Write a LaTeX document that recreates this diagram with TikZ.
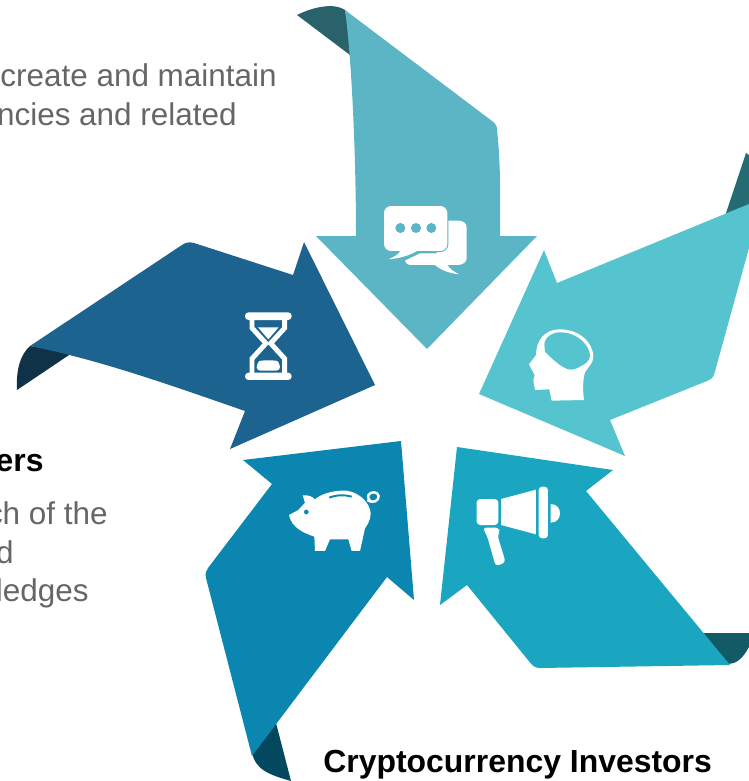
\documentclass[tikz,border=0pt]{standalone}
\usepackage{fontspec}
\setmainfont{Liberation Sans}
\definecolor{armtop}{HTML}{5BB5C5}
\definecolor{foldtop}{HTML}{2A626B}
\definecolor{armright}{HTML}{55C4CE}
\definecolor{foldright}{HTML}{246B74}
\definecolor{armlow}{HTML}{1AA6C0}
\definecolor{foldlow}{HTML}{115A66}
\definecolor{armpig}{HTML}{0A86B0}
\definecolor{foldpig}{HTML}{03485E}
\definecolor{armleft}{HTML}{1D6390}
\definecolor{foldleft}{HTML}{0F3249}
\definecolor{bodytext}{HTML}{666666}
\tikzset{
    icon/.style={fill=white,draw=none},
    bodyline/.style={anchor=base east,inner sep=0pt,text=bodytext,font=\fontsize{17.9}{21}\selectfont},
    headline/.style={inner sep=0pt,text=black,font=\bfseries\fontsize{18.17}{21}\selectfont}
}
\begin{document}
\begin{tikzpicture}[x=0.02cm,y=-0.02cm]
  \useasboundingbox (0,0) rectangle (749,781);
  \clip (0,0) rectangle (749,781);

% top arm
  \fill [foldtop] (297,15) .. controls (315,6) and (335,3) .. (345,10) .. controls (348,25) and (350,40) .. (350,55) -- cycle;
  \fill [armtop] (345,10) -- (492,121) .. controls (496,124) and (497,126) .. (497,130) .. controls (501,165) and (500,200) .. (500,236)
     -- (537,236) -- (427,349) -- (316,236) -- (356,236) .. controls (356,160) and (352,60) .. (345,10) -- cycle;
  \begin{scope}[shift={(370,190)},scale=0.3333]
    \fill [icon] (105,212) .. controls (108,220) and (112,225) .. (120,225) -- (195,225) .. controls (215,242) and (240,250) .. (268,253) .. controls (250,245) and (238,235) .. (232,225) -- (262,225)
       .. controls (280,225) and (290,215) .. (290,205) -- (290,112) .. controls (290,100) and (280,92) .. (265,92) -- (200,92) -- (200,190) -- (150,190) -- cycle;
    \draw [armtop,line width=1.2pt,rounded corners=4pt] (42,48) rectangle (232,183);
    \draw [armtop,line width=1.2pt] (145,183) .. controls (125,195) and (90,205) .. (55,208) .. controls (75,200) and (88,192) .. (92,183);
    \fill [icon,rounded corners=4pt] (42,48) rectangle (232,183);
    \fill [icon] (145,180) .. controls (125,195) and (90,205) .. (55,208) .. controls (75,200) and (88,192) .. (92,180) -- cycle;
    \fill [armtop] (91,114) circle (15) (138,114) circle (15) (184,114) circle (15);
  \end{scope}

% right arm
  \fill [foldright] (725,216) -- (746,153) -- (749,155) -- (749,205) -- cycle;
  \fill [armright] (749,204) -- (557,283) -- (544,250) -- (479,394) -- (625,456) -- (610,420) -- (707,381)
     .. controls (711,379) and (713,378) .. (714,375) -- (749,248) -- cycle;
  \begin{scope}[shift={(510,320)},scale=0.3333]
    \fill [icon] (125,242) -- (118,208) -- (75,210) -- (70,182) -- (74,165) -- (66,150) -- (57,133) -- (78,105)
       .. controls (78,60) and (105,28) .. (150,28) .. controls (210,28) and (250,70) .. (250,110)
       .. controls (250,130) and (235,140) .. (226,155) .. controls (218,175) and (218,210) .. (222,240) -- cycle;
    \fill [armright] (103,72) .. controls (105,50) and (130,35) .. (155,37) .. controls (200,38) and (240,75) .. (240,108)
       .. controls (238,125) and (225,132) .. (210,140) .. controls (195,148) and (185,152) .. (170,146)
       .. controls (150,138) and (130,120) .. (105,95) -- cycle;
  \end{scope}

% lower right arm
  \fill [foldlow] (697,633) -- (749,633) -- (749,647) .. controls (742,660) and (735,664) .. (728,664) -- cycle;
  \fill [armlow] (457,447) -- (613,470) -- (586,491) -- (730,665) -- (540,668) .. controls (534,668) and (532,665) .. (528,660)
     -- (467,585) -- (440,605) -- cycle;
  \begin{scope}[shift={(460,475)},scale=0.3333]
    \fill [icon,rounded corners=2pt] (50,72) rectangle (115,150);
    \fill [icon] (123,72) -- (228,44) -- (228,178) -- (123,150) -- cycle;
    \fill [icon,rounded corners=2pt] (236,35) rectangle (264,190);
    \fill [icon] (272,87) .. controls (292,87) and (300,102) .. (300,115) .. controls (300,128) and (292,143) .. (272,143) -- cycle;
    \fill [icon,rounded corners=2pt] (68,158) -- (118,158) -- (118,172) -- (112,180) -- (137,262) -- (107,274) -- (82,185) -- cycle;
  \end{scope}

% lower left arm
  \fill [foldpig] (275,719) -- (291,781) .. controls (270,775) and (255,770) .. (252,752) -- cycle;
  \fill [armpig] (243,460) -- (401,441) -- (414,600) -- (387,577) -- (252,756) -- (206,578) .. controls (205,573) and (206,571) .. (208,568)
     -- (272,484) -- cycle;
  \begin{scope}[shift={(280,480)},scale=0.3333]
    \fill [icon] (27,105) -- (55,90) -- (75,68) -- (68,46) .. controls (85,44) and (97,50) .. (105,58)
       .. controls (125,40) and (165,30) .. (200,32) .. controls (240,38) and (270,70) .. (272,100)
       .. controls (272,120) and (262,135) .. (255,145) -- (240,213) -- (215,213) -- (205,178) -- (150,178) -- (135,213) -- (105,213) -- (103,170)
       .. controls (75,160) and (35,145) .. (27,105) -- cycle;
    \fill [armpig] (79,96) circle (7);
    \draw [armpig,line width=1.1pt] (148,53) .. controls (170,44) and (195,44) .. (215,50);
    \draw [white,line width=1.4pt] (262,60) .. controls (280,72) and (297,62) .. (296,48) .. controls (294,35) and (272,32) .. (265,46) .. controls (262,55) and (270,65) .. (278,66);
  \end{scope}

% left arm
  \fill [foldleft] (17,390) -- (72,353) -- (30,346) .. controls (20,355) and (16,370) .. (17,390) -- cycle;
  \fill [armleft] (304,242) -- (375,385) -- (230,449) -- (245,411) .. controls (170,385) and (100,360) .. (30,346) -- (182,245)
     .. controls (186,242) and (190,242) .. (194,243) -- (293,275) -- cycle;
  \begin{scope}[shift={(230,300)},scale=0.3333]
    \fill [icon,rounded corners=2pt] (45,37) rectangle (185,60);
    \fill [icon,rounded corners=2pt] (45,218) rectangle (185,240);
    \draw [white,line width=2.8pt] (66,55) -- (66,84) -- (108,130) -- (66,176) -- (66,222);
    \draw [white,line width=2.8pt] (164,55) -- (164,84) -- (122,130) -- (164,176) -- (164,222);
    \fill [icon] (84,82) -- (146,82) -- (115,118) -- cycle;
    \fill [icon,rounded corners=2pt] (80,212) -- (80,192) .. controls (90,180) and (140,180) .. (150,192) -- (150,212) -- cycle;
  \end{scope}

  \node [bodyline] (maintain) at (277,86) {create and maintain};
  \node [bodyline] (related) at (237,125) {ncies and related};
  \node [headline,anchor=base east] (holders) at (44,471) {ers};
  \node [bodyline] (ofthe) at (108,524) {ch of the};
  \node [bodyline] (dline) at (14,563) {d};
  \node [bodyline] (pledges) at (89,601) {ledges};
  \node [headline,anchor=base west] (investors) at (323,772) {Cryptocurrency Investors};
\end{tikzpicture}
\end{document}
